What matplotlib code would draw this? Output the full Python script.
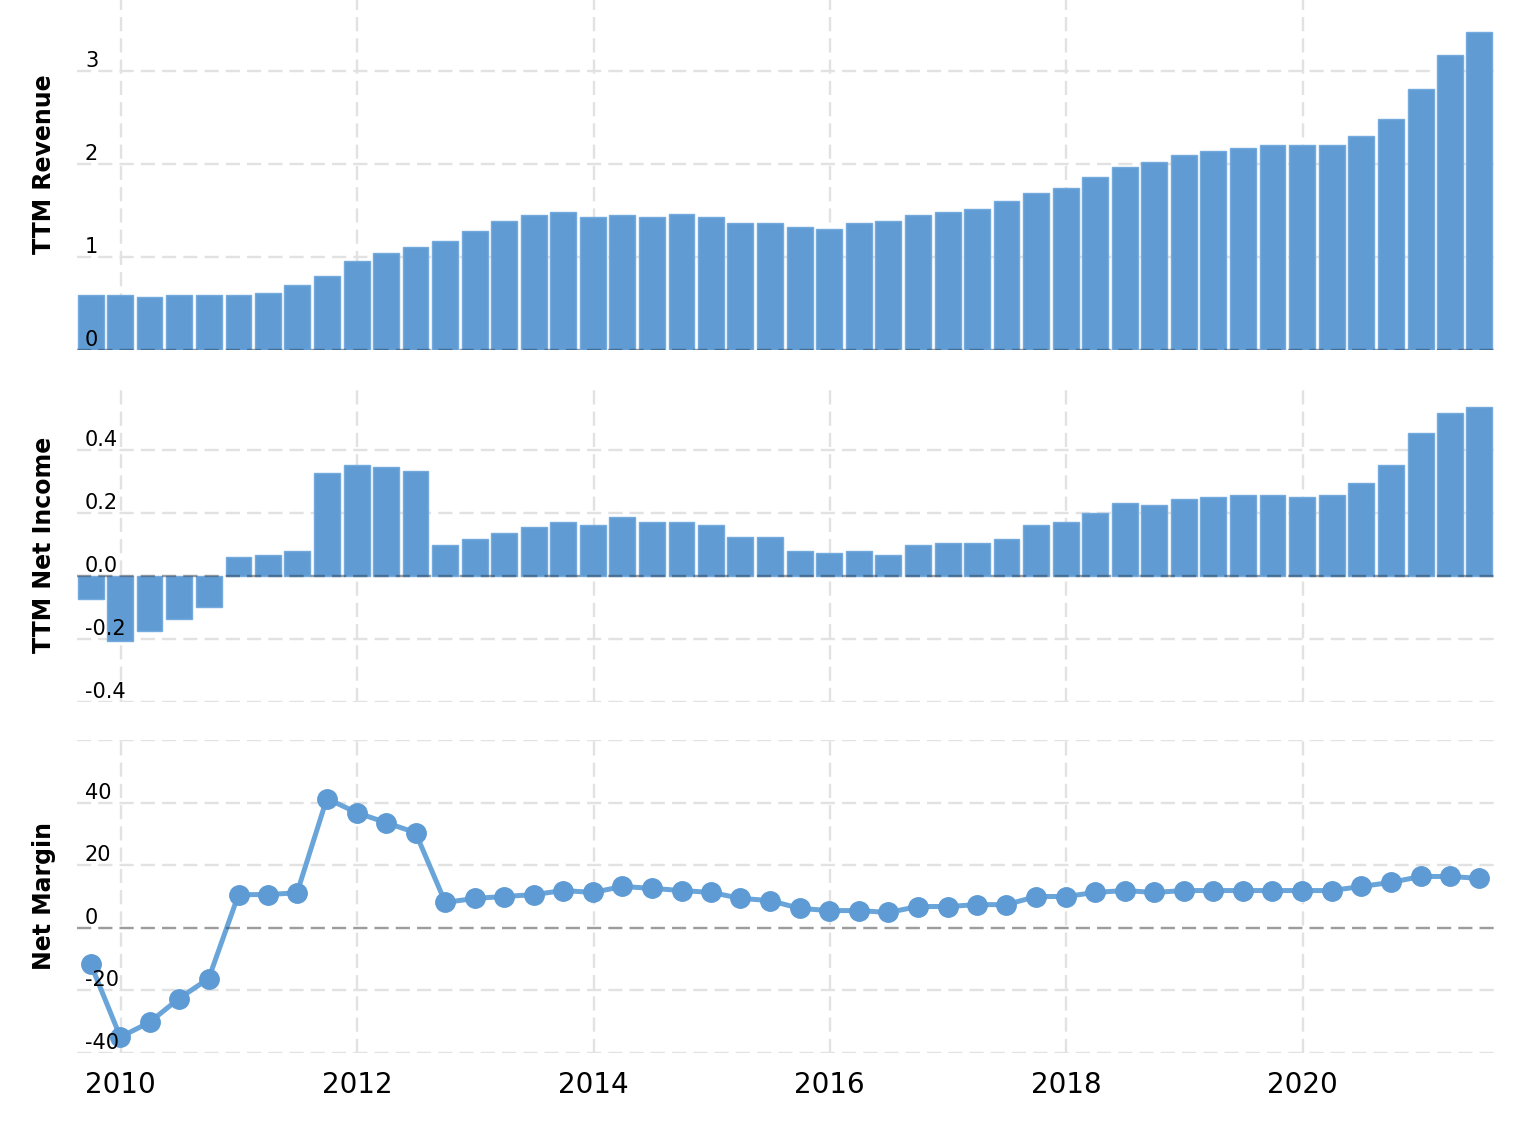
"""
Revenue / net income / net margin, three stacked panels
"""
import datetime as dt
import pandas as pd
import matplotlib
matplotlib.use('Agg')
import matplotlib.pyplot as plt
import matplotlib.dates as mdates
import matplotlib.transforms as mtransforms

################################################################################
#
# data
quarters = pd.date_range('2009-09-30', periods=48, freq='QE')

revenue = [0.59, 0.59, 0.57, 0.59, 0.59, 0.59, 0.61, 0.70, 0.80, 0.96,
           1.04, 1.11, 1.17, 1.28, 1.39, 1.45, 1.49, 1.43, 1.45, 1.43,
           1.47, 1.43, 1.37, 1.37, 1.32, 1.30, 1.37, 1.39, 1.45, 1.49,
           1.52, 1.60, 1.69, 1.75, 1.86, 1.97, 2.03, 2.10, 2.14, 2.18,
           2.21, 2.21, 2.21, 2.31, 2.49, 2.81, 3.18, 3.43]

net_income = [-0.073, -0.206, -0.175, -0.137, -0.098, 0.059, 0.066, 0.078,
              0.326, 0.351, 0.345, 0.332, 0.097, 0.116, 0.135, 0.154,
              0.173, 0.161, 0.186, 0.173, 0.173, 0.161, 0.123, 0.123,
              0.078, 0.072, 0.078, 0.066, 0.097, 0.104, 0.104, 0.116,
              0.161, 0.173, 0.199, 0.231, 0.224, 0.243, 0.250, 0.256,
              0.256, 0.250, 0.256, 0.294, 0.351, 0.453, 0.516, 0.535]

net_margin = [-11.5, -34.9, -30.2, -22.6, -16.2, 10.6, 10.6, 11.2, 41.3, 36.8,
              33.6, 30.4, 8.1, 9.4, 10.0, 10.6, 11.9, 11.3, 13.2, 12.6,
              11.9, 11.3, 9.4, 8.7, 6.2, 5.5, 5.5, 4.9, 6.8, 6.8,
              7.4, 7.4, 10.0, 10.0, 11.3, 11.9, 11.3, 11.9, 11.9, 11.9,
              11.9, 11.9, 11.9, 13.2, 14.5, 16.4, 16.4, 15.8]

year_ticks = [2010, 2012, 2014, 2016, 2018, 2020]

################################################################################
#
# figure layout (pixel boxes of the three panels)
W, H = 1522, 1134
fig = plt.figure(figsize=(W / 100, H / 100), dpi=100)

def box(top, bottom):
    return [77 / W, 1 - bottom / H, (1494 - 77) / W, (bottom - top) / H]

ax1 = fig.add_axes(box(0, 350))
ax2 = fig.add_axes(box(387, 702))
ax3 = fig.add_axes(box(740, 1053))

bar_color = '#609cd3'
edge_color = '#74aadd'
grid_kw = dict(color='#e2e2e2', linewidth=1.7, linestyle=(0, (6, 3)))

d2010 = mdates.date2num(dt.datetime(2010, 1, 1))
xmin = d2010 - 0.3697 * 365.25
xmax = d2010 + 11.618 * 365.25

################################################################################
#
# panels
ax1.bar(quarters, revenue, width=80, color=bar_color, edgecolor=edge_color,
        linewidth=1, zorder=2)
ax2.bar(quarters, net_income, width=80, color=bar_color, edgecolor=edge_color,
        linewidth=1, zorder=2)
ax3.plot(quarters, net_margin, color='#6aa5da', linewidth=3.6, zorder=3)
ax3.plot(quarters, net_margin, 'o', color='#5e9bd4', markersize=14, zorder=4)

panels = [
    (ax1, (0, 3.77), [0, 1, 2, 3], ['0', '1', '2', '3'], 'TTM Revenue', 0.53),
    (ax2, (-0.4, 0.6), [-0.4, -0.2, 0.0, 0.2, 0.4],
     ['-0.4', '-0.2', '0.0', '0.2', '0.4'], 'TTM Net Income', 0.5),
    (ax3, (-40, 60), [-40, -20, 0, 20, 40, 60],
     ['-40', '-20', '0', '20', '40', ''], 'Net Margin', 0.5),
]

for ax, ylim, yticks, ylabels, title, ypos in panels:
    ax.set_xlim(xmin, xmax)
    ax.set_ylim(*ylim)
    ax.set_xticks([mdates.date2num(dt.datetime(y, 1, 1)) for y in year_ticks])
    ax.set_yticks(yticks)
    ax.set_yticklabels([])
    ax.tick_params(length=0)
    ax.grid(True, zorder=0, **grid_kw)
    ax.set_axisbelow(True)
    for s in ax.spines.values():
        s.set_visible(False)
    ax.axhline(0, color='black', alpha=0.3, linewidth=1.7,
               linestyle=(0, (6, 3)), zorder=3)

    # value labels sit inside the plot, just above each gridline
    trans = mtransforms.blended_transform_factory(ax.transAxes, ax.transData)
    trans = trans + mtransforms.ScaledTranslation(0, 0, fig.dpi_scale_trans)
    for v, lab in zip(yticks, ylabels):
        ax.text(8 / 1417, v, lab, transform=trans, ha='left', va='bottom',
                fontsize=15, color='black', zorder=5)

    ax.set_ylabel(title, fontsize=17, fontweight='bold')
    ax.yaxis.set_label_coords(-0.0145, ypos)

ax1.set_xticklabels([])
ax2.set_xticklabels([])
ax3.set_xticklabels([str(y) for y in year_ticks], fontsize=20)
ax3.tick_params(axis='x', pad=13)

fig.savefig('out.png', dpi=100)
